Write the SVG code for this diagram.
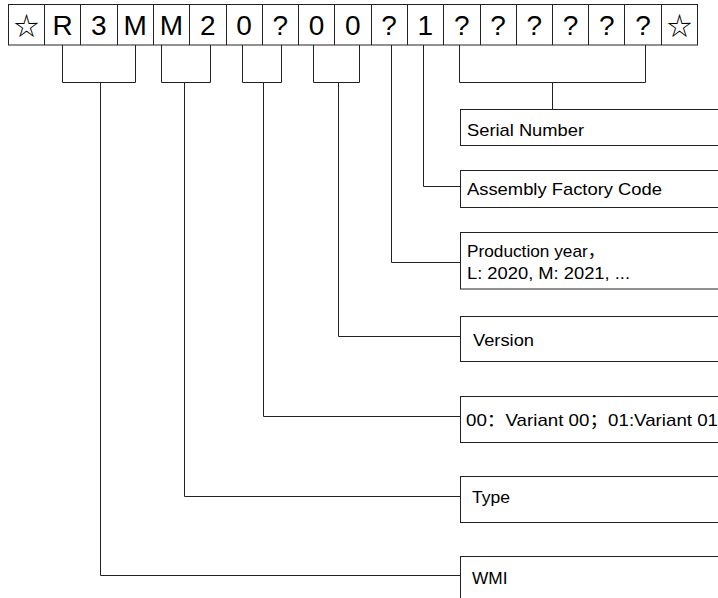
<svg xmlns="http://www.w3.org/2000/svg" width="718" height="598" viewBox="0 0 718 598">
<style>
.cell{fill:#fff;stroke:#222;stroke-width:1}
.ch{font-family:"Liberation Sans",Arial,sans-serif;font-size:28px;fill:#000;text-anchor:middle}
.star{font-family:"Noto Sans CJK SC","DejaVu Sans",sans-serif;font-size:25px;fill:#000;text-anchor:middle}
.box{fill:#fff;stroke:#222;stroke-width:1}
.lbl{font-family:"Liberation Sans",Arial,"Noto Sans CJK SC",sans-serif;font-size:17px;fill:#000}
.conn{fill:none;stroke:#222;stroke-width:1}
</style>
<rect width="718" height="598" fill="#fff"/>
<g id="vin">
<rect class="cell" x="8.5" y="4.5" width="689" height="40.5"/>
<path class="conn" d="M44.5,4.5V45M80.5,4.5V45M117.5,4.5V45M153.5,4.5V45M189.5,4.5V45M226.5,4.5V45M262.5,4.5V45M298.5,4.5V45M334.5,4.5V45M371.5,4.5V45M407.5,4.5V45M443.5,4.5V45M480.5,4.5V45M516.5,4.5V45M552.5,4.5V45M588.5,4.5V45M624.5,4.5V45M661.5,4.5V45"/>
<text class="star" x="26.5" y="34.5">☆</text>
<text class="ch" x="62.5" y="34.5">R</text>
<text class="ch" x="98.8" y="34.5">3</text>
<text class="ch" x="135.1" y="34.5">M</text>
<text class="ch" x="171.4" y="34.5">M</text>
<text class="ch" x="207.7" y="34.5">2</text>
<text class="ch" x="244" y="34.5">0</text>
<text class="ch" x="280.2" y="34.5">?</text>
<text class="ch" x="316.5" y="34.5">0</text>
<text class="ch" x="352.8" y="34.5">0</text>
<text class="ch" x="389.1" y="34.5">?</text>
<text class="ch" x="425.4" y="34.5">1</text>
<text class="ch" x="461.7" y="34.5">?</text>
<text class="ch" x="498" y="34.5">?</text>
<text class="ch" x="534.2" y="34.5">?</text>
<text class="ch" x="570.5" y="34.5">?</text>
<text class="ch" x="606.8" y="34.5">?</text>
<text class="ch" x="643.1" y="34.5">?</text>
<text class="star" x="679.4" y="34.5">☆</text>
</g>
<g id="connectors">
<path class="conn" d="M62.5,45V82.5H135.5V45M100.5,82.5V575.5H460"/>
<path class="conn" d="M161.5,45V82.5H210.5V45M184.5,82.5V496.5H460"/>
<path class="conn" d="M242.5,45V82.5H281.5V45M263.5,82.5V416.5H460"/>
<path class="conn" d="M313.5,45V82.5H359.5V45M338.5,82.5V336.5H460"/>
<path class="conn" d="M391.5,45V262.5H460"/>
<path class="conn" d="M423.5,45V186.5H460"/>
<path class="conn" d="M459.5,45V82.5H645.5V45M552.5,82.5V109"/>
</g>
<g id="serial">
<rect class="box" x="460.5" y="109.5" width="270" height="36"/>
<text class="lbl" x="467" y="136" textLength="117" lengthAdjust="spacingAndGlyphs">Serial Number</text>
</g>
<g id="factory">
<rect class="box" x="460.5" y="170.5" width="270" height="37"/>
<text class="lbl" x="467" y="194.5" textLength="195" lengthAdjust="spacingAndGlyphs">Assembly Factory Code</text>
</g>
<g id="year">
<rect class="box" x="460.5" y="232.5" width="270" height="56.5"/>
<text class="lbl" x="467" y="256.5" textLength="138" lengthAdjust="spacingAndGlyphs">Production year，</text>
<text class="lbl" x="467" y="279" textLength="163" lengthAdjust="spacingAndGlyphs">L: 2020, M: 2021, ...</text>
</g>
<g id="version">
<rect class="box" x="460.5" y="316.5" width="270" height="45"/>
<text class="lbl" x="473" y="345.5" textLength="61" lengthAdjust="spacingAndGlyphs">Version</text>
</g>
<g id="variant">
<rect class="box" x="460.5" y="396.5" width="270" height="46"/>
<text class="lbl" x="466" y="425.5" textLength="252" lengthAdjust="spacingAndGlyphs">00：Variant 00；01:Variant 01</text>
</g>
<g id="type">
<rect class="box" x="460.5" y="476.5" width="270" height="46"/>
<text class="lbl" x="472" y="502.5" textLength="38" lengthAdjust="spacingAndGlyphs">Type</text>
</g>
<g id="wmi">
<rect class="box" x="460.5" y="556.5" width="270" height="60"/>
<text class="lbl" x="472" y="584" textLength="35.5" lengthAdjust="spacingAndGlyphs">WMI</text>
</g>
</svg>
